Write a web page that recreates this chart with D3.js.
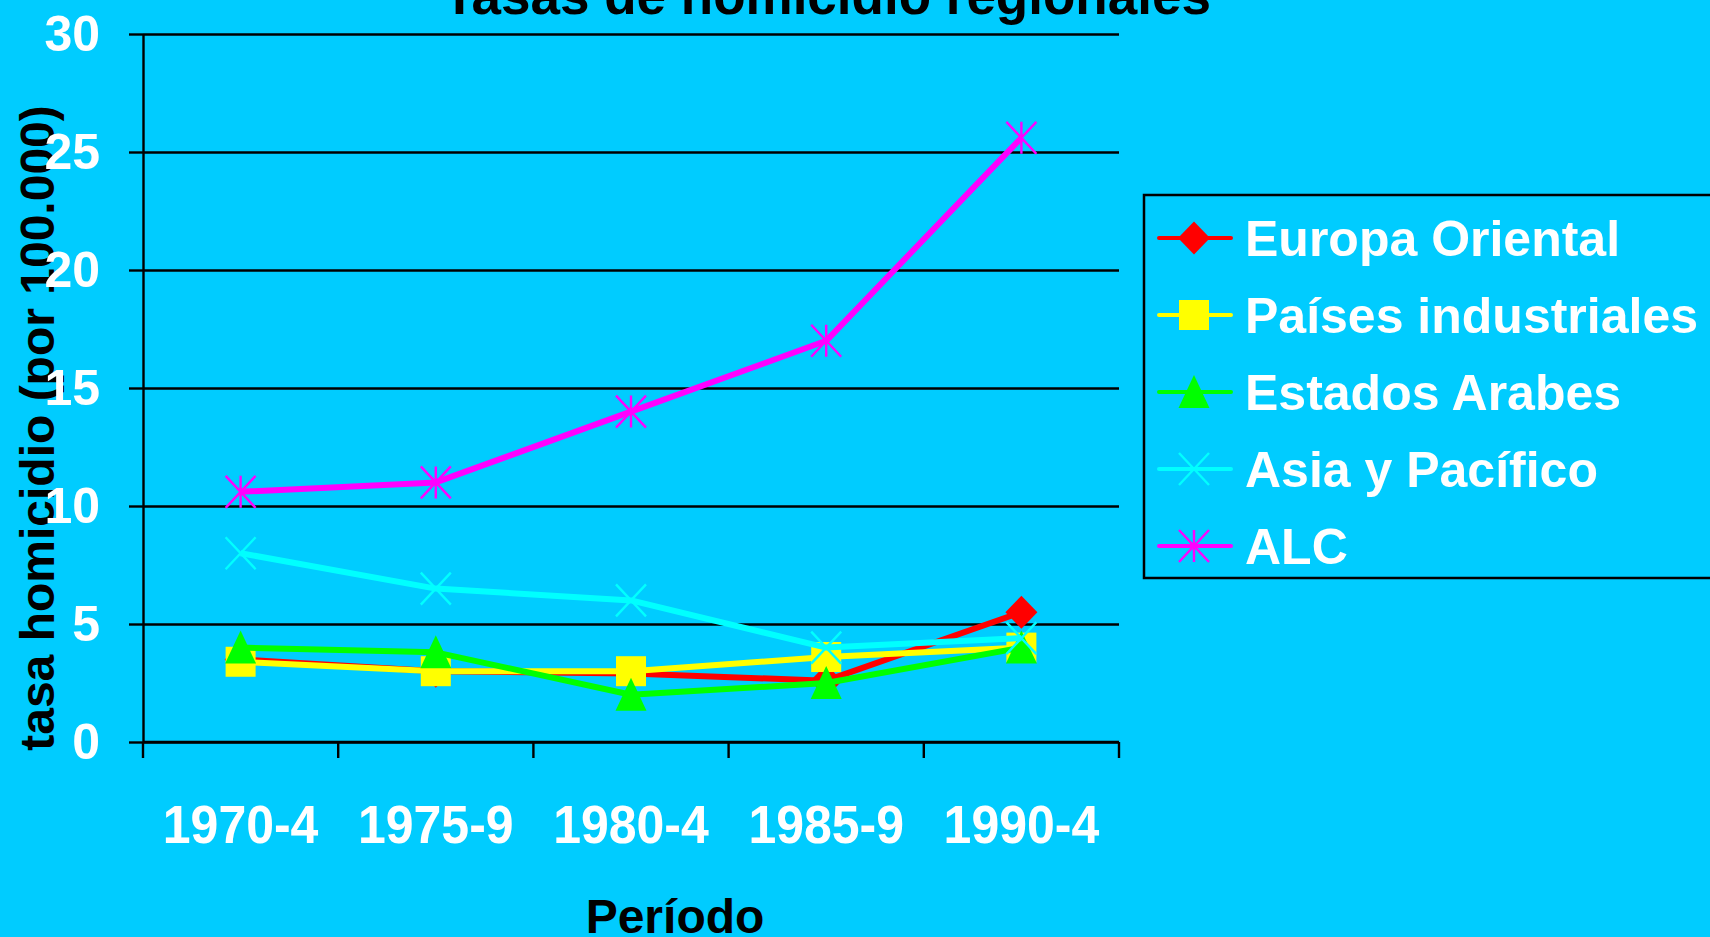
<!DOCTYPE html>
<html>
<head>
<meta charset="utf-8">
<script src="https://cdn.jsdelivr.net/npm/d3@7"></script>
<style>
  html, body { margin: 0; padding: 0; background: #00CCFF; overflow: hidden; }
  svg { display: block; font-family: Arial, "Liberation Sans", sans-serif; font-weight: bold; }
</style>
</head>
<body>
<svg id="chart" width="1710" height="937"></svg>
<script>
// ---- data ----
const categories = ["1970-4", "1975-9", "1980-4", "1985-9", "1990-4"];
const europaOriental = [3.5, 3.0, 2.9, 2.6, 5.5];
const paisesIndustriales = [3.4, 3.0, 3.0, 3.6, 4.0];
const estadosArabes = [4.0, 3.8, 2.0, 2.5, 4.0];
const asiaPacifico = [8.0, 6.5, 6.0, 4.0, 4.4];
const alc = [10.6, 11.0, 14.0, 17.0, 25.6];
const seriesNames = ["Europa Oriental", "Países industriales", "Estados Arabes", "Asia y Pacífico", "ALC"];
const yTicks = [0, 5, 10, 15, 20, 25, 30];
const titleText = "Tasas de homicidio regionales";
const xTitle = "Período";
const yTitle = "tasa homicidio (por 100.000)";

const seriesValues = [europaOriental, paisesIndustriales, estadosArabes, asiaPacifico, alc];
const seriesColors = ["#FF0000", "#FFFF00", "#00FF00", "#00FFFF", "#FF00FF"];
const seriesMarkers = ["diamond", "square", "triangle", "x", "asterisk"];

const svg = d3.select("#chart");
const pLeft = 143, pRight = 1119, pTop = 34, pBottom = 742;

const x = d3.scaleBand().domain(categories).range([pLeft, pRight]).padding(0);
const y = d3.scaleLinear().domain([0, 30]).range([pBottom, pTop]);

// background
svg.append("rect").attr("width", 1710).attr("height", 937).attr("fill", "#00CCFF");

// title
svg.append("text").attr("x", 827).attr("y", 14).attr("text-anchor", "middle")
  .attr("font-size", 53).attr("fill", "#000").text(titleText);

// y axis title (drawn below tick labels)
svg.append("text").attr("transform", "translate(54,428) rotate(-90)")
  .attr("text-anchor", "middle").attr("font-size", 48).attr("fill", "#000").text(yTitle);

// gridlines
const grid = svg.append("g").attr("transform", `translate(${pLeft},0)`)
  .call(d3.axisLeft(y).tickValues(yTicks).tickSize(-(pRight - pLeft)).tickFormat(""));
grid.select(".domain").remove();
grid.selectAll("line").attr("stroke", "#000").attr("stroke-width", 2.4);

// y axis with outer ticks and labels
const yAx = svg.append("g").attr("transform", `translate(${pLeft},0)`)
  .call(d3.axisLeft(y).tickValues(yTicks).tickSize(14).tickSizeOuter(0).tickPadding(29));
yAx.select(".domain").attr("stroke", "#000").attr("stroke-width", 2.4);
yAx.selectAll("line").attr("stroke", "#000").attr("stroke-width", 2.4);
yAx.selectAll("text").attr("font-size", 50).attr("fill", "#fff")
  .attr("font-family", "Arial, 'Liberation Sans', sans-serif").attr("font-weight", "bold");

// x axis ticks at band edges
const edges = categories.map(c => x(c)).concat([x.range()[1]]);
svg.append("g").selectAll("line").data(edges).join("line")
  .attr("x1", d => d).attr("x2", d => d).attr("y1", pBottom).attr("y2", pBottom + 16)
  .attr("stroke", "#000").attr("stroke-width", 2.4);
svg.append("line").attr("x1", pLeft).attr("x2", pRight).attr("y1", pBottom).attr("y2", pBottom)
  .attr("stroke", "#000").attr("stroke-width", 2.4);

svg.append("g").selectAll("text").data(categories).join("text")
  .attr("transform", d => `translate(${x(d) + x.bandwidth() / 2},843) scale(1,1.08)`)
  .attr("text-anchor", "middle").attr("font-size", 50).attr("fill", "#fff").text(d => d);

// x title
svg.append("text").attr("x", 675).attr("y", 933).attr("text-anchor", "middle")
  .attr("font-size", 48).attr("fill", "#000").text(xTitle);

// marker drawing
function drawMarker(g, type, cx, cy, color) {
  if (type === "diamond") {
    g.append("path").attr("d", `M${cx},${cy - 16.5}L${cx + 16},${cy}L${cx},${cy + 16.5}L${cx - 16},${cy}Z`).attr("fill", color);
  } else if (type === "square") {
    g.append("rect").attr("x", cx - 15).attr("y", cy - 15).attr("width", 30).attr("height", 30).attr("fill", color);
  } else if (type === "triangle") {
    g.append("path").attr("d", `M${cx},${cy - 17}L${cx + 15.5},${cy + 16}L${cx - 15.5},${cy + 16}Z`).attr("fill", color);
  } else if (type === "x" || type === "asterisk") {
    const p = `M${cx - 15},${cy - 16}L${cx + 15},${cy + 16}M${cx + 15},${cy - 16}L${cx - 15},${cy + 16}` +
      (type === "asterisk" ? `M${cx},${cy - 16}L${cx},${cy + 16}` : "");
    g.append("path").attr("d", p).attr("stroke", color).attr("stroke-width", 2.4).attr("fill", "none");
  }
}

// series
const line = d3.line().x((d, i) => x(categories[i]) + x.bandwidth() / 2).y(d => y(d));
seriesValues.forEach((vals, k) => {
  const g = svg.append("g");
  g.append("path").attr("d", line(vals)).attr("fill", "none")
    .attr("stroke", seriesColors[k]).attr("stroke-width", 6).attr("stroke-linejoin", "round");
  vals.forEach((v, i) => drawMarker(g, seriesMarkers[k], x(categories[i]) + x.bandwidth() / 2, y(v), seriesColors[k]));
});

// legend
const lg = svg.append("g");
lg.append("rect").attr("x", 1144).attr("y", 195).attr("width", 600).attr("height", 383)
  .attr("fill", "none").attr("stroke", "#000").attr("stroke-width", 2.5);
const rowY = [238, 315, 392, 469, 546];
seriesNames.forEach((name, k) => {
  const cy = rowY[k];
  const g = lg.append("g");
  g.append("line").attr("x1", 1159).attr("x2", 1231).attr("y1", cy).attr("y2", cy)
    .attr("stroke", seriesColors[k]).attr("stroke-width", 4).attr("stroke-linecap", "round");
  drawMarker(g, seriesMarkers[k], 1194, cy, seriesColors[k]);
  g.append("text").attr("x", 1245).attr("y", cy + 18).attr("font-size", 50).attr("fill", "#fff").text(name);
});
</script>
</body>
</html>
